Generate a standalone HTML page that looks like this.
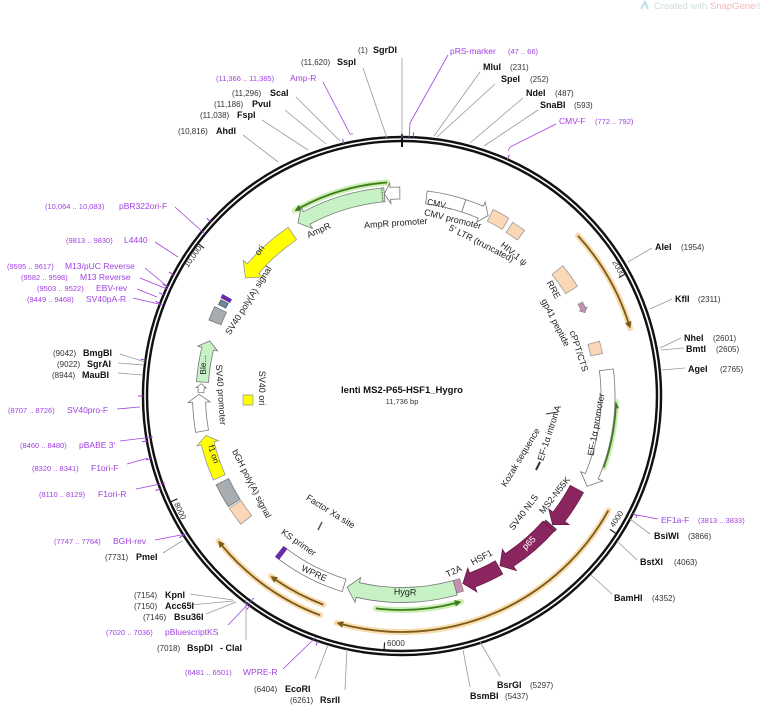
<!DOCTYPE html>
<html><head><meta charset="utf-8"><style>
html,body{margin:0;padding:0;background:#fff;}
svg{display:block;font-family:"Liberation Sans","DejaVu Sans",sans-serif;}
.n{font-size:8px;fill:#333;}
.b{font-size:9px;font-weight:bold;fill:#111;}
.p{font-size:8.5px;fill:#a040e0;}
.pn{font-size:7.5px;fill:#a040e0;}
.f{font-size:9px;fill:#222;}
.l{stroke:#999;stroke-width:0.8;fill:none;}
.lp{stroke:#a040e0;stroke-width:0.8;fill:none;}
</style></head><body>
<svg id="s" width="760" height="706" viewBox="0 0 760 706" xmlns="http://www.w3.org/2000/svg">
<text x="654" y="9" style="font-size:9.5px;fill:#d0dde0">Created with <tspan style="fill:#f2b8b8">SnapGene</tspan>®</text>
<path d="M641 9 L645 2 L648 9" stroke="#bfe0ea" stroke-width="2" fill="none"/>
<g id="shapes"></g>

<path class="l" d="M402 58 L402 138"/>
<path class="l" d="M363 68 L387 138"/>
<path class="lp" d="M323 82 L350 134 l3 0"/>
<path class="l" d="M296 97 L340 141"/>
<path class="l" d="M285 110 L326 144"/>
<path class="l" d="M262 120 L308 150"/>
<path class="l" d="M243 135 L278 162"/>
<path class="lp" d="M448 55 L410 123 L409 139"/>
<path class="l" d="M480 72 L434 136"/>
<path class="l" d="M495 84 L437 137"/>
<path class="l" d="M523 98 L470 143"/>
<path class="l" d="M538 110 L484 146"/>
<path class="lp" d="M556 124 L510 147 l-2 4"/>
<path class="l" d="M652 248 L628 262"/>
<path class="l" d="M672 299 L650 309"/>
<path class="l" d="M681 338 L660 348"/>
<path class="l" d="M684 348 L661 350"/>
<path class="l" d="M685 368 L662 370"/>
<path class="lp" d="M658 519 L637 515 l-1 3"/>
<path class="l" d="M650 534 L630 519"/>
<path class="l" d="M637 560 L617 541"/>
<path class="l" d="M612 594 L591 575"/>
<path class="l" d="M500 676 L480 642"/>
<path class="l" d="M470 687 L463 650"/>
<path class="l" d="M315 679 L328 645"/>
<path class="l" d="M345 690 L347 649"/>
<path class="lp" d="M283 669 L313 640 l3 -3"/>
<path class="l" d="M246 640 L246 600"/>
<path class="lp" d="M228 625 L252 600 l2 -2"/>
<path class="l" d="M190 594 L233 600 M190 605 L234 601 M206 614 L236 602"/>
<path class="l" d="M163 553 L182 541"/>
<path class="lp" d="M155 540 L186 534"/>
<path class="lp" d="M175 207 L205 234"/>
<path class="lp" d="M155 242 L178 257"/>
<path class="lp" d="M145 268 L168 287"/>
<path class="lp" d="M140 278 L167 289"/>
<path class="lp" d="M137 289 L157 297"/>
<path class="lp" d="M133 298 L163 305"/>
<path class="l" d="M120 354 L145 362"/>
<path class="l" d="M118 363 L144 365"/>
<path class="l" d="M118 373 L143 375"/>
<path class="lp" d="M117 409 L140 407"/>
<path class="lp" d="M120 441 L153 437"/>
<path class="lp" d="M127 464 L148 458"/>
<path class="lp" d="M136 489 L165 483"/>

<text class="n" x="358" y="53">(1)</text><text class="b" x="373" y="53">SgrDI</text>
<text class="n" x="301" y="65">(11,620)</text><text class="b" x="337" y="65">SspI</text>
<text class="pn" x="216" y="81">(11,366 .. 11,385)</text><text class="p" x="290" y="81">Amp-R</text>
<text class="n" x="232" y="96">(11,296)</text><text class="b" x="270" y="96">ScaI</text>
<text class="n" x="214" y="107">(11,186)</text><text class="b" x="252" y="107">PvuI</text>
<text class="n" x="200" y="118">(11,038)</text><text class="b" x="237" y="118">FspI</text>
<text class="n" x="178" y="134">(10,816)</text><text class="b" x="216" y="134">AhdI</text>
<text class="p" x="450" y="54">pRS-marker</text><text class="pn" x="508" y="54">(47 .. 66)</text>
<text class="b" x="483" y="70">MluI</text><text class="n" x="510" y="70">(231)</text>
<text class="b" x="501" y="82">SpeI</text><text class="n" x="530" y="82">(252)</text>
<text class="b" x="526" y="96">NdeI</text><text class="n" x="555" y="96">(487)</text>
<text class="b" x="540" y="108">SnaBI</text><text class="n" x="574" y="108">(593)</text>
<text class="p" x="559" y="124">CMV-F</text><text class="pn" x="595" y="124">(772 .. 792)</text>
<text class="b" x="655" y="250">AleI</text><text class="n" x="681" y="250">(1954)</text>
<text class="b" x="675" y="302">KflI</text><text class="n" x="698" y="302">(2311)</text>
<text class="b" x="684" y="341">NheI</text><text class="n" x="713" y="341">(2601)</text>
<text class="b" x="686" y="352">BmtI</text><text class="n" x="716" y="352">(2605)</text>
<text class="b" x="688" y="372">AgeI</text><text class="n" x="720" y="372">(2765)</text>
<text class="p" x="661" y="523">EF1a-F</text><text class="pn" x="698" y="523">(3813 .. 3833)</text>
<text class="b" x="654" y="539">BsiWI</text><text class="n" x="688" y="539">(3866)</text>
<text class="b" x="640" y="565">BstXI</text><text class="n" x="674" y="565">(4063)</text>
<text class="b" x="614" y="601">BamHI</text><text class="n" x="652" y="601">(4352)</text>
<text class="b" x="497" y="688">BsrGI</text><text class="n" x="530" y="688">(5297)</text>
<text class="b" x="470" y="699">BsmBI</text><text class="n" x="505" y="699">(5437)</text>
<text class="n" x="254" y="692">(6404)</text><text class="b" x="285" y="692">EcoRI</text>
<text class="n" x="290" y="703">(6261)</text><text class="b" x="320" y="703">RsrII</text>
<text class="pn" x="185" y="675">(6481 .. 6501)</text><text class="p" x="243" y="675">WPRE-R</text>
<text class="n" x="157" y="651">(7018)</text><text class="b" x="187" y="651">BspDI</text><text class="b" x="220" y="651">- ClaI</text>
<text class="pn" x="106" y="635">(7020 .. 7036)</text><text class="p" x="165" y="635">pBluescriptKS</text>
<text class="n" x="134" y="598">(7154)</text><text class="b" x="165" y="598">KpnI</text>
<text class="n" x="134" y="609">(7150)</text><text class="b" x="165" y="609">Acc65I</text>
<text class="n" x="143" y="620">(7146)</text><text class="b" x="174" y="620">Bsu36I</text>
<text class="n" x="105" y="560">(7731)</text><text class="b" x="136" y="560">PmeI</text>
<text class="pn" x="54" y="544">(7747 .. 7764)</text><text class="p" x="113" y="544">BGH-rev</text>
<text class="pn" x="45" y="209">(10,064 .. 10,083)</text><text class="p" x="119" y="209">pBR322ori-F</text>
<text class="pn" x="66" y="243">(9813 .. 9830)</text><text class="p" x="124" y="243">L4440</text>
<text class="pn" x="7" y="269">(9595 .. 9617)</text><text class="p" x="65" y="269">M13/pUC Reverse</text>
<text class="pn" x="21" y="280">(9582 .. 9598)</text><text class="p" x="80" y="280">M13 Reverse</text>
<text class="pn" x="37" y="291">(9503 .. 9522)</text><text class="p" x="96" y="291">EBV-rev</text>
<text class="pn" x="27" y="302">(9449 .. 9468)</text><text class="p" x="86" y="302">SV40pA-R</text>
<text class="n" x="53" y="356">(9042)</text><text class="b" x="83" y="356">BmgBI</text>
<text class="n" x="57" y="367">(9022)</text><text class="b" x="87" y="367">SgrAI</text>
<text class="n" x="52" y="378">(8944)</text><text class="b" x="82" y="378">MauBI</text>
<text class="pn" x="8" y="413">(8707 .. 8726)</text><text class="p" x="67" y="413">SV40pro-F</text>
<text class="pn" x="20" y="448">(8460 .. 8480)</text><text class="p" x="79" y="448">pBABE 3'</text>
<text class="pn" x="32" y="471">(8320 .. 8341)</text><text class="p" x="91" y="471">F1ori-F</text>
<text class="pn" x="39" y="497">(8110 .. 8129)</text><text class="p" x="98" y="497">F1ori-R</text>

<text x="402" y="393" text-anchor="middle" style="font-size:9.5px;font-weight:bold;fill:#111">lenti MS2-P65-HSF1_Hygro</text>
<text x="402" y="404" text-anchor="middle" style="font-size:7.5px;fill:#333">11,736 bp</text>

<text class="n" transform="translate(612,262) rotate(61)">2000</text>
<text class="n" transform="translate(614,528) rotate(-57)">4000</text>
<text class="n" x="387" y="646">6000</text>
<text class="n" transform="translate(174,504) rotate(65)">8000</text>
<text class="n" transform="translate(188,268) rotate(-55)">10,000</text>

<text class="f" text-anchor="middle" transform="translate(320,233) rotate(-25)">AmpR</text>
<text class="f" text-anchor="middle" transform="translate(396,226) rotate(-4)">AmpR promoter</text>
<text class="f" text-anchor="middle" transform="translate(439,207) rotate(12)" style="font-size:8.5px">CMV...</text>
<text class="f" text-anchor="middle" transform="translate(452,222) rotate(14)">CMV promoter</text>
<text class="f" text-anchor="middle" transform="translate(480,246) rotate(27)">5' LTR (truncated)</text>
<text class="f" text-anchor="middle" transform="translate(512,256) rotate(40)">HIV-1 ψ</text>
<text class="f" text-anchor="middle" transform="translate(262,252) rotate(-55)">ori</text>
<text class="f" text-anchor="middle" transform="translate(251,302) rotate(-58)">SV40 poly(A) signal</text>
<text class="f" text-anchor="middle" transform="translate(551,291) rotate(62)">RRE</text>
<text class="f" text-anchor="middle" transform="translate(553,324) rotate(63)">gp41 peptide</text>
<text class="f" text-anchor="middle" transform="translate(576,352) rotate(72)">cPPT/CTS</text>
<text class="f" text-anchor="middle" transform="translate(599,425) rotate(-80)">EF-1α promoter</text>
<text class="f" text-anchor="middle" transform="translate(552,434) rotate(-72)">EF-1α intron A</text>
<text class="f" text-anchor="middle" transform="translate(523,459) rotate(-59)">Kozak sequence</text>
<text class="f" text-anchor="middle" transform="translate(526,514) rotate(-53)">SV40 NLS</text>
<text class="f" text-anchor="middle" transform="translate(557,497) rotate(-52)">MS2-N55K</text>
<text class="f" text-anchor="middle" transform="translate(531,545) rotate(-45)" style="fill:#fff">p65</text>
<text class="f" text-anchor="middle" transform="translate(483,560) rotate(-28)">HSF1</text>
<text class="f" text-anchor="middle" transform="translate(455,574) rotate(-25)">T2A</text>
<text class="f" text-anchor="middle" transform="translate(405,595) rotate(2)">HygR</text>
<text class="f" text-anchor="middle" transform="translate(313,576) rotate(25)">WPRE</text>
<text class="f" text-anchor="middle" transform="translate(297,545) rotate(35)">KS primer</text>
<text class="f" text-anchor="middle" transform="translate(329,514) rotate(32)">Factor Xa site</text>
<text class="f" text-anchor="middle" transform="translate(259,388) rotate(90)">SV40 ori</text>
<text class="f" text-anchor="middle" transform="translate(206,365) rotate(-90)" style="font-size:8.5px">Ble...</text>
<text class="f" text-anchor="middle" transform="translate(218,395) rotate(86)">SV40 promoter</text>
<text class="f" text-anchor="middle" transform="translate(211,455) rotate(72)" style="font-size:8.5px">f1 ori</text>
<text class="f" text-anchor="middle" transform="translate(249,485) rotate(63)">bGH poly(A) signal</text>
</svg>
<script>
var cx=402,cy=396,NS="http://www.w3.org/2000/svg",G=document.getElementById("shapes");
function P(a,r){var t=a*Math.PI/180;return [cx+r*Math.sin(t),cy-r*Math.cos(t)];}
function s(p){return p[0].toFixed(1)+" "+p[1].toFixed(1);}
function el(tag,attrs){var e=document.createElementNS(NS,tag);for(var k in attrs)e.setAttribute(k,attrs[k]);G.appendChild(e);return e;}
function arcD(a1,a2,r){var sw=a2>a1?1:0,lg=Math.abs(a2-a1)>180?1:0;return "A"+r+" "+r+" 0 "+lg+" "+sw+" "+s(P(a2,r));}
function box(a1,a2,r,w,fill,stroke){var ro=r+w/2,ri=r-w/2;
 el("path",{d:"M"+s(P(a1,ro))+arcD(a1,a2,ro)+"L"+s(P(a2,ri))+arcD(a2,a1,ri)+"Z",fill:fill,stroke:stroke||"#777","stroke-width":0.8});}
function arrow(a1,a2,r,w,fill,stroke,hp){hp=hp||9;var dir=a2>a1?1:-1,hl=hp/r*180/Math.PI,b=a2-dir*hl;
 if((b-a1)*dir<0)b=a1;var ro=r+w/2,ri=r-w/2,hw=w*0.85;
 el("path",{d:"M"+s(P(a1,ro))+arcD(a1,b,ro)+"L"+s(P(b,r+hw))+"L"+s(P(a2,r))+"L"+s(P(b,r-hw))+"L"+s(P(b,ri))+arcD(b,a1,ri)+"Z",fill:fill,stroke:stroke||"#777","stroke-width":0.8});}
function lineArrow(a1,a2,r,col,glow){var dir=a2>a1?1:-1,hl=6/r*180/Math.PI,b=a2-dir*hl;
 el("path",{d:"M"+s(P(a1,r))+arcD(a1,a2,r),fill:"none",stroke:glow,"stroke-width":6,"stroke-linecap":"round",opacity:0.8});
 el("path",{d:"M"+s(P(a1,r))+arcD(a1,b,r),fill:"none",stroke:col,"stroke-width":1.8});
 el("path",{d:"M"+s(P(b,r+3))+"L"+s(P(a2,r))+"L"+s(P(b,r-3))+"Z",fill:col,stroke:col,"stroke-width":0.5});}
function tick(a,r1,r2,c,w){el("path",{d:"M"+s(P(a,r1))+"L"+s(P(a,r2)),stroke:c||"#222","stroke-width":w||1.2});}
el("circle",{cx:cx,cy:cy,r:257,fill:"none",stroke:"#111","stroke-width":6.5});
el("circle",{cx:cx,cy:cy,r:257,fill:"none",stroke:"#fff","stroke-width":1.6});
tick(0,249,262,"#111",2);
[2000,4000,6000,8000,10000].forEach(function(bp){tick(bp/11736*360,247,254,"#222",1.2);});
[[-13],[2.5],[24],[117],[-47.7],[-62],[-65],[-67],[-69],[-82],[-90],[-100],[-104],[-111],[-122.5],[-144],[-161]].forEach(function(a){tick(a[0],259,264,"#a040e0",1);});
lineArrow(-4,-30,214,"#3e7d1e","#bfe9a0");
lineArrow(47.7,73.4,238,"#7a5a18","#f6d39a");
lineArrow(109.5,91.6,214,"#3e7d1e","#bfe9a0");
lineArrow(119,196,236,"#7a5a18","#f6d39a");
lineArrow(200.5,231.7,234,"#7a5a18","#f6d39a");
lineArrow(200.7,216,223,"#7a5a18","#f6d39a");
lineArrow(187,164,214,"#3e7d1e","#bfe9a0");
arrow(-0.6,-5,203,12,"#fff","#777",6);
arrow(-5,-31,202,14,"#c6f2c6","#777",10);
el("path",{d:"M"+s(P(-5.6,196))+"L"+s(P(-5.6,209)),stroke:"#333","stroke-width":0.8,"stroke-dasharray":"1.5 1"});
box(7,18,200,13,"#fff","#777");
arrow(18,25.5,200,13,"#fff","#777",8);
box(26,31,201,13,"#fad7b5","#999");
box(32.5,36.5,200,12,"#fad7b5","#999");
arrow(-34,-53,196,15,"#ffff00","#999",12);
box(51,58,200,14,"#fad7b5","#999");
arrow(62.5,65.5,201,5,"#c890b0","#888",4);
box(74.5,78,199,12,"#fad7b5","#999");
arrow(82.7,116,206,14,"#fff","#777",11);
arrow(118,130.5,198,15,"#8b2560","#6b1a48",10);
box(130.8,131.6,197,14,"#8b2560","#444");
arrow(131.6,150,196,15,"#8b2560","#6b1a48",11);
arrow(150.5,162,197,15,"#8b2560","#6b1a48",10);
box(162.5,164.5,198,13,"#c890b0","#888");
arrow(164.5,196,199,15,"#c6f2c6","#777",11);
box(197,217,198,13,"#fff","#777");
box(217,218.2,198,13,"#6a2aa8","#6a2aa8");
box(-68.5,-64.5,201,13,"#a8adb2","#777");
box(-63.5,-62,201,8,"#6a8aa0","#555");
box(-61.5,-60.5,201,10,"#6a2aa8","#6a2aa8");
arrow(274,286,200,12,"#c6f2c6","#777",8);
arrow(271,273.5,201,6,"#fff","#777",4);
arrow(260,270.5,203,13,"#fff","#777",8);
arrow(246,258.6,200,13,"#ffff00","#999",8);
box(237.5,244.5,199,14,"#a8adb2","#777");
box(231.5,237,199,14,"#fad7b5","#999");
el("rect",{x:243,y:395,width:10,height:10,fill:"#ffff00",stroke:"#999","stroke-width":0.8});
el("path",{d:"M536 470 L540 462",stroke:"#333","stroke-width":2});
el("path",{d:"M546 414 L558 412",stroke:"#333","stroke-width":1});
el("path",{d:"M318 530 L322 522",stroke:"#555","stroke-width":1.5});
</script>
</body></html>
